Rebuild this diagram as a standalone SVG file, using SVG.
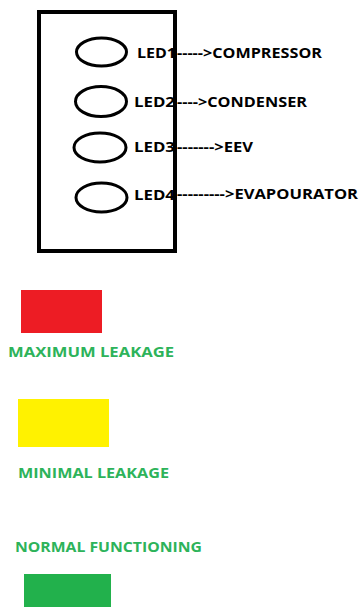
<svg xmlns="http://www.w3.org/2000/svg" width="359" height="607" viewBox="0 0 359 607">
<style>
.led{fill:none;stroke:#000;stroke-width:3}
.lbl{font-family:"Open Sans","Liberation Sans",sans-serif;font-weight:bold;font-size:14px;fill:#000}
.leg{font-family:"Open Sans","Liberation Sans",sans-serif;font-weight:bold;font-size:14px;fill:#2DB35A}
</style>
<rect width="359" height="607" fill="#fff"/>
<g id="board"><rect x="39" y="12" width="136" height="239" fill="none" stroke="#000" stroke-width="4"/></g>
<g id="led1"><ellipse class="led" cx="101.5" cy="52" rx="25" ry="14"/><text class="lbl" x="137" y="58" textLength="39" lengthAdjust="spacingAndGlyphs">LED1</text></g>
<g id="led2"><ellipse class="led" cx="101" cy="101.5" rx="25.5" ry="15"/><text class="lbl" x="134" y="107" textLength="41" lengthAdjust="spacingAndGlyphs">LED2</text></g>
<g id="led3"><ellipse class="led" cx="100" cy="147.5" rx="26" ry="14.5"/><text class="lbl" x="134" y="152" textLength="41" lengthAdjust="spacingAndGlyphs">LED3</text></g>
<g id="led4"><ellipse class="led" cx="101.5" cy="197.5" rx="25.5" ry="14.5"/><text class="lbl" x="134" y="200" textLength="41" lengthAdjust="spacingAndGlyphs">LED4</text></g>
<g id="connectors">
<text class="lbl" x="177" y="58" textLength="145" lengthAdjust="spacingAndGlyphs">-----&gt;COMPRESSOR</text>
<text class="lbl" x="177" y="107" textLength="130" lengthAdjust="spacingAndGlyphs">----&gt;CONDENSER</text>
<text class="lbl" x="177" y="152" textLength="76" lengthAdjust="spacingAndGlyphs">-------&gt;EEV</text>
<text class="lbl" x="177" y="199" textLength="181" lengthAdjust="spacingAndGlyphs">---------&gt;EVAPOURATOR</text>
</g>
<g id="legend-max"><rect x="21" y="290" width="81" height="43" fill="#ED1C24"/><text class="leg" x="8" y="357" textLength="166" lengthAdjust="spacingAndGlyphs">MAXIMUM LEAKAGE</text></g>
<g id="legend-min"><rect x="18" y="399" width="91" height="48" fill="#FFF200"/><text class="leg" x="18" y="478" textLength="151" lengthAdjust="spacingAndGlyphs">MINIMAL LEAKAGE</text></g>
<g id="legend-normal"><text class="leg" x="15" y="552" textLength="187" lengthAdjust="spacingAndGlyphs">NORMAL FUNCTIONING</text><rect x="24" y="574" width="87" height="33" fill="#22B14C"/></g>
</svg>
